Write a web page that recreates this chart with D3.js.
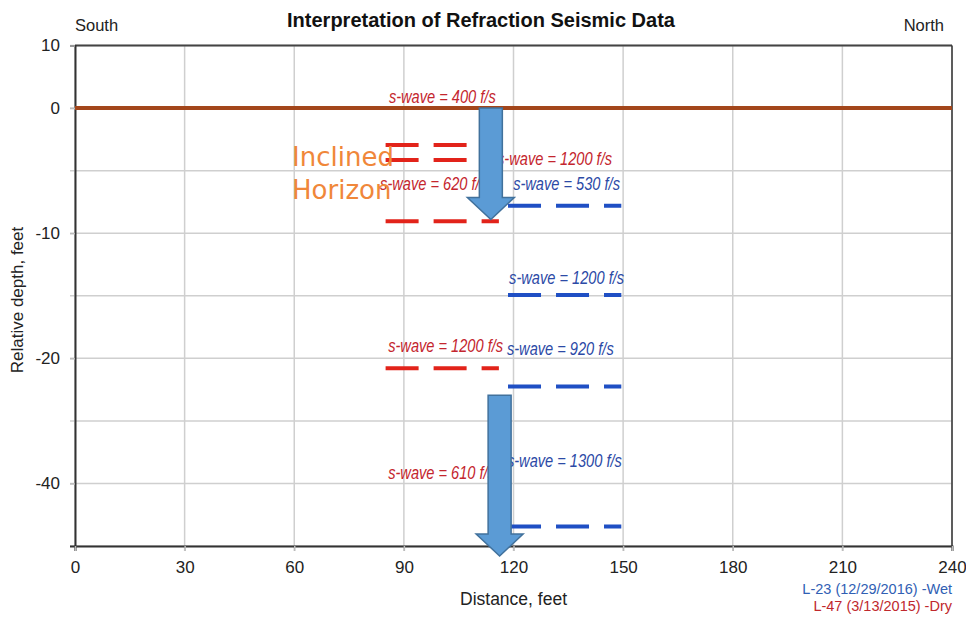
<!DOCTYPE html>
<html>
<head>
<meta charset="utf-8">
<script src="https://cdn.jsdelivr.net/npm/d3@7"></script>
<style>
  body { margin: 0; background: #fff; }
  svg { display: block; font-family: "Liberation Sans", Arial, sans-serif; }
</style>
</head>
<body>
<svg id="chart" width="966" height="617"></svg>
<script>
//
// Data
//

// x axis, feet
var xTicks = [0, 30, 60, 90, 120, 150, 180, 210, 240]
// y axis is broken: these are the values sitting on the evenly spaced grid steps
var yBreaks = [10, 0, -10, -20, -40, -50]
var yBreakSteps = [0, 1, 3, 5, 7, 8]
var yTicks = [10, 0, -10, -20, -40]
var yGrid = [10, 0, -5, -10, -15, -20, -30, -40, -50]

// L-47 (3/13/2015) -Dry, red layers
var dryDepths = [-2.95, -4.15, -9.05, -21.6]
var dryFrom = 85
var dryTo = 116
// L-23 (12/29/2016) -Wet, blue layers
var wetDepths = [-7.8, -14.95, -24.5, -46.9]
var wetFrom = 118.5
var wetTo = 149.5

// velocity labels: [text, x, depth]
var dryLabels = [
  ['s-wave = 400 f/s', 85.9, 1.9],
  ['s-wave = 1200 f/s', 115.5, -4.0],
  ['s-wave = 620 f/s', 83.5, -6.0],
  ['s-wave = 1200 f/s', 85.7, -19.0],
  ['s-wave = 610 f/s', 85.7, -38.2]
]
var wetLabels = [
  ['s-wave = 530 f/s', 119.9, -6.0],
  ['s-wave = 1200 f/s', 118.8, -13.5],
  ['s-wave = 920 f/s', 118.2, -19.2],
  ['s-wave = 1300 f/s', 118.2, -36.3]
]

// ground surface
var surfaceDepth = 0
// arrows: [x, from depth, to depth]
var arrows = [
  [113.8, 0, -8.9],
  [116.2, -25.9, -51.6]
]

// legend
var legendItems = ['L-23 (12/29/2016) -Wet', 'L-47 (3/13/2015) -Dry']

//
// Layout
//

var margin = { top: 45.5, right: 14, bottom: 71, left: 75 }
var width = 966, height = 617
var plotW = width - margin.left - margin.right
var plotH = height - margin.top - margin.bottom
var colorDry = '#e2231a', colorDryText = '#c4262e'
var colorWet = '#1f4fc4', colorWetText = '#2c4aa6'
var colorSurface = '#a3461b'
var labelSqueeze = 0.77

var svg = d3.select('#chart')

var x = d3.scaleLinear()
  .domain([0, 240])
  .range([margin.left, margin.left + plotW])

var stepPx = plotH / yBreakSteps[yBreakSteps.length - 1]
var y = d3.scaleLinear()
  .domain(yBreaks)
  .range(yBreakSteps.map(function(s) { return margin.top + s * stepPx }))

// grid
svg.append('g')
  .selectAll('line.h')
  .data(yGrid)
  .join('line')
  .attr('x1', x(0) - 5).attr('x2', x(240))
  .attr('y1', function(d) { return y(d) }).attr('y2', function(d) { return y(d) })
  .attr('stroke', '#cfcfcf').attr('stroke-width', 1.5)

svg.append('g')
  .selectAll('line.v')
  .data(xTicks)
  .join('line')
  .attr('x1', function(d) { return x(d) }).attr('x2', function(d) { return x(d) })
  .attr('y1', y(10)).attr('y2', y(-50) + 5)
  .attr('stroke', '#cfcfcf').attr('stroke-width', 1.5)

// frame
svg.append('line')
  .attr('x1', x(0)).attr('x2', x(240)).attr('y1', y(10)).attr('y2', y(10))
  .attr('stroke', '#444').attr('stroke-width', 2)
svg.append('line')
  .attr('x1', x(240)).attr('x2', x(240)).attr('y1', y(10)).attr('y2', y(-50))
  .attr('stroke', '#333').attr('stroke-width', 1.5)

// axes
var yAxis = d3.axisLeft(y).tickValues(yTicks).tickSize(5).tickPadding(10)
  .tickFormat(function(d) { return String(d) })
var gy = svg.append('g')
  .attr('transform', 'translate(' + x(0) + ',0)')
  .call(yAxis)
gy.select('.domain').attr('stroke', '#333').attr('stroke-width', 2)
gy.selectAll('.tick line').attr('stroke', '#bbb').attr('stroke-width', 1.5)
gy.selectAll('.tick text')
  .attr('font-size', 17).attr('fill', '#222')
  .style('font-family', '"Liberation Sans", Arial, sans-serif')

var xAxis = d3.axisBottom(x).tickValues(xTicks).tickSize(5).tickPadding(10)
var gx = svg.append('g')
  .attr('transform', 'translate(0,' + y(-50) + ')')
  .call(xAxis)
gx.select('.domain').attr('stroke', '#333').attr('stroke-width', 2)
gx.selectAll('.tick line').attr('stroke', '#bbb').attr('stroke-width', 1.5)
gx.selectAll('.tick text')
  .attr('font-size', 17).attr('fill', '#222')
  .style('font-family', '"Liberation Sans", Arial, sans-serif')

// titles
svg.append('text')
  .attr('x', 481).attr('y', 27)
  .attr('text-anchor', 'middle')
  .attr('font-size', 20).attr('font-weight', 'bold').attr('fill', '#111')
  .text('Interpretation of Refraction Seismic Data')
svg.append('text')
  .attr('x', x(0)).attr('y', 31)
  .attr('font-size', 16.5).attr('fill', '#222')
  .text('South')
svg.append('text')
  .attr('x', x(240) - 8).attr('y', 31)
  .attr('text-anchor', 'end')
  .attr('font-size', 16.5).attr('fill', '#222')
  .text('North')
svg.append('text')
  .attr('x', (x(0) + x(240)) / 2).attr('y', 605)
  .attr('text-anchor', 'middle')
  .attr('font-size', 17.5).attr('fill', '#222')
  .text('Distance, feet')
svg.append('text')
  .attr('transform', 'translate(23,300) rotate(-90)')
  .attr('text-anchor', 'middle')
  .attr('font-size', 17).attr('fill', '#222')
  .text('Relative depth, feet')

// legend
svg.append('g')
  .selectAll('text')
  .data(legendItems)
  .join('text')
  .attr('x', x(240))
  .attr('y', function(d, i) { return 594 + i * 16.5 })
  .attr('text-anchor', 'end')
  .attr('font-size', 14.5)
  .attr('fill', function(d, i) { return i === 0 ? '#3060b4' : '#c0282d' })
  .text(function(d) { return d })

// ground surface
svg.append('line')
  .attr('x1', x(0)).attr('x2', x(240))
  .attr('y1', y(surfaceDepth)).attr('y2', y(surfaceDepth))
  .attr('stroke', colorSurface).attr('stroke-width', 4)

// layer lines
function layers(depths, from, to, color) {
  svg.append('g')
    .selectAll('line')
    .data(depths)
    .join('line')
    .attr('x1', x(from)).attr('x2', x(to))
    .attr('y1', function(d) { return y(d) }).attr('y2', function(d) { return y(d) })
    .attr('stroke', color)
    .attr('stroke-width', 4)
    .attr('stroke-dasharray', '33,15')
}
layers(dryDepths, dryFrom, dryTo, colorDry)
layers(wetDepths, wetFrom, wetTo, colorWet)

// velocity labels (condensed italic)
function labels(list, color) {
  svg.append('g')
    .selectAll('text')
    .data(list)
    .join('text')
    .attr('transform', function(d) {
      return 'translate(' + x(d[1]) + ',' + y(d[2]) + ') scale(' + labelSqueeze + ',1)'
    })
    .attr('dy', '0.35em')
    .attr('font-size', 19)
    .attr('font-style', 'italic')
    .attr('fill', color)
    .text(function(d) { return d[0] })
}
labels(dryLabels, colorDryText)
labels(wetLabels, colorWetText)

// arrows
var shaftHalf = 11.5, headHalf = 23.5, headLen = 22
svg.append('g')
  .selectAll('path')
  .data(arrows)
  .join('path')
  .attr('d', function(d) {
    var cx = x(d[0]), y0 = y(d[1]), y1 = y(d[2]), yb = y1 - headLen
    return 'M' + (cx - shaftHalf) + ',' + y0 +
      'L' + (cx + shaftHalf) + ',' + y0 +
      'L' + (cx + shaftHalf) + ',' + yb +
      'L' + (cx + headHalf) + ',' + yb +
      'L' + cx + ',' + y1 +
      'L' + (cx - headHalf) + ',' + yb +
      'L' + (cx - shaftHalf) + ',' + yb + 'Z'
  })
  .attr('fill', '#5b9bd5')
  .attr('stroke', '#41719c')
  .attr('stroke-width', 1.5)

// note
var note = svg.append('text')
  .attr('x', x(59.4)).attr('y', y(-4.6))
  .attr('font-size', 26)
  .attr('fill', '#f0873a')
  .style('font-family', '"DejaVu Sans", sans-serif')
note.append('tspan').text('Inclined')
note.append('tspan').attr('x', x(59.4)).attr('dy', 33).text('Horizon')
</script>
</body>
</html>
